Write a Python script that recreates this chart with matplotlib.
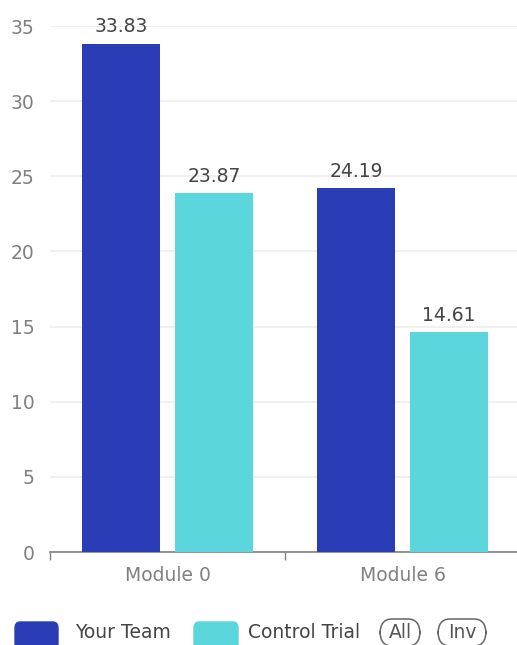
import matplotlib
matplotlib.use("Agg")
import matplotlib.pyplot as plt
from matplotlib.patches import FancyBboxPatch
import numpy as np

categories = ["Module 0", "Module 6"]
your_team = [33.83, 24.19]
control_trial = [23.87, 14.61]
y_ticks = [0, 5, 10, 15, 20, 25, 30, 35]

BLUE = "#2b3db6"
CYAN = "#5ad6dc"
GREY = "#808080"

plt.rcParams["font.family"] = ["DejaVu Sans"]
FS = 13.5

fig = plt.figure(figsize=(5.17, 6.45), dpi=100)
ax = fig.add_axes([50 / 517, 93 / 645, 470 / 517, 526 / 645])

x = np.arange(len(categories))
w = 0.332
off = 0.198
b1 = ax.bar(x - off, your_team, w, color=BLUE, zorder=3)
b2 = ax.bar(x + off, control_trial, w, color=CYAN, zorder=3)

for bars, vals in ((b1, your_team), (b2, control_trial)):
    for b, v in zip(bars, vals):
        ax.text(b.get_x() + b.get_width() / 2, v + 0.5, f"{v:.2f}",
                ha="center", va="bottom", fontsize=FS, color="#444444", clip_on=False)

ax.set_xlim(-0.5, 1.5)
ax.set_ylim(0, 35)
ax.set_yticks(y_ticks)
ax.set_yticklabels([str(t) for t in y_ticks], fontsize=FS, color=GREY)
ax.tick_params(axis="y", length=0, pad=11)
ax.yaxis.grid(True, color="#eeeeee", linewidth=1.2, zorder=0)

ax.set_xticks(x)
ax.set_xticklabels(categories, fontsize=FS, color=GREY)
ax.tick_params(axis="x", length=0, pad=10)
ax.set_xticks([-0.5, 0.5, 1.5], minor=True)
ax.tick_params(axis="x", which="minor", length=6, color=GREY, width=1)

for s in ("top", "right", "left"):
    ax.spines[s].set_visible(False)
ax.spines["bottom"].set_color(GREY)
ax.spines["bottom"].set_linewidth(1.2)

# legend row, slightly cut by the bottom edge like the reference
def fig_box(x0, y0, wpx, hpx, r, **kw):
    fig.patches.append(FancyBboxPatch((x0 / 517, y0 / 645), wpx / 517, hpx / 645,
                                      boxstyle=f"round,pad=0,rounding_size={r / 517}",
                                      transform=fig.transFigure, **kw))

ty = 12 / 645
fig_box(15, -4, 43, 27, 5, color=BLUE)
fig.text(75 / 517, ty, "Your Team", fontsize=FS, color="#444444", va="center")
fig_box(194, -4, 44, 27, 5, color=CYAN)
fig.text(248 / 517, ty, "Control Trial", fontsize=FS, color="#444444", va="center")
for label, cx, pw in (("All", 400, 40), ("Inv", 462, 48)):
    fig_box(cx - pw / 2, -1, pw, 27, 12, fc="white", ec="#666666", lw=1.1)
    fig.text(cx / 517, ty, label, fontsize=FS, color="#555555", ha="center", va="center")

fig.savefig("out.png", dpi=100)
